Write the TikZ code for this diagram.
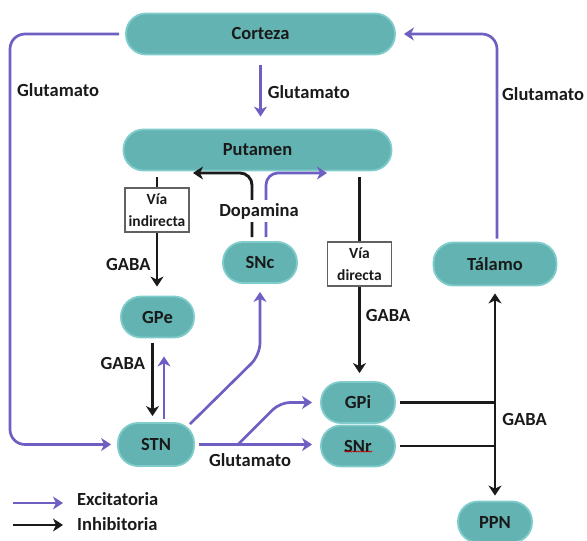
\documentclass[tikz,border=0pt]{standalone}
\usepackage{fontspec}
\setmainfont{Carlito}
\usetikzlibrary{arrows.meta,positioning,calc,decorations.pathmorphing}

\definecolor{tealfill}{RGB}{98,179,178}
\definecolor{tealedge}{RGB}{128,204,203}
\definecolor{excit}{RGB}{110,96,194}
\definecolor{inhib}{RGB}{26,26,26}

\begin{document}
\begin{tikzpicture}[x=10pt,y=-10pt,
  area/.style={draw=tealedge, line width=1.8pt, fill=tealfill, rounded corners=20pt,
    minimum height=41pt, inner sep=0pt, text=inhib, font=\bfseries\fontsize{18.5}{21}\selectfont},
  via/.style={draw=black!62, line width=1.8pt, fill=white, align=center, inner sep=0pt,
    minimum width=64pt, minimum height=44pt, text=inhib, font=\bfseries\fontsize{15.5}{22}\selectfont},
  lbl/.style={inner sep=0pt, text=inhib, font=\bfseries\fontsize{18.5}{21}\selectfont},
  inhline/.style={draw=inhib, line width=2.9pt},
  exc/.style={draw=excit, line width=2.7pt, -{Stealth[length=10pt,width=13pt,inset=3pt]}},
  inh/.style={inhline, -{Stealth[length=10pt,width=13pt,inset=3pt]}},
  spell/.style={draw=red!75!black, line width=0.6pt, decorate,
    decoration={snake, amplitude=0.6pt, segment length=2.6pt}}]
  \useasboundingbox (0,0) rectangle (58.7,54.1);

  % Areas
  \node[area, minimum width=269pt] (corteza) at (26.05,3.4) {Corteza};
  \node[area, minimum width=268pt] (putamen) at (25.75,15.0) {Putamen};
  \node[area, minimum width=74pt] (snc) at (26,26.25) {SNc};
  \node[area, minimum width=73pt] (gpe) at (15.75,31.7) {GPe};
  \node[area, minimum width=123pt, minimum height=43pt] (talamo) at (49.5,26.4) {Tálamo};
  \node[area, minimum width=76pt, minimum height=43pt] (stn) at (15.6,44.45) {STN};
  \node[area, minimum width=74pt] (gpi) at (35.8,40.25) {GPi};
  \node[area, minimum width=74pt] (snr) at (35.8,44.6) {SNr};
  \node[area, minimum width=74pt] (ppn) at (49.5,52.2) {PPN};
  \draw[spell] ([shift={(-14pt,-5.5pt)}]snr.center) -- ++(28pt,0);

  % Pathway boxes
  \node[via] (indir) at (15.7,21) {Vía\\indirecta};
  \node[via] (dir) at (35.95,26.4) {Vía\\directa};

  % Corteza -> Putamen
  \draw[exc, shorten <=10pt, shorten >=12pt] (corteza.south) -- (corteza.south |- putamen.north)
    node[lbl, midway, right=6pt] (glu1) {Glutamato};

  % Corteza -> STN
  \coordinate (loopL) at (1,44.45);
  \draw[exc, rounded corners=15pt, shorten <=6pt, shorten >=6pt] (corteza.west) -| (loopL) -- (stn.west);
  \node[lbl, anchor=west] (glu2) at (1.7,9) {Glutamato};

  % Talamo -> Corteza
  \coordinate (loopR) at (49.7,3.4);
  \draw[exc, rounded corners=15pt, shorten <=3pt, shorten >=8pt] (talamo.north -| loopR) -- (loopR) -- (corteza.east);
  \node[lbl, anchor=west] (glu3) at (50.2,9.4) {Glutamato};

  % Indirect pathway
  \draw[inhline, shorten <=6pt] (putamen.south -| indir.north) -- (indir.north);
  \draw[inh, shorten >=9pt] (indir.south) -- (indir.south |- gpe.north)
    node[lbl, midway, left=5pt] (gaba1) {GABA};

  % Direct pathway
  \draw[inhline, shorten <=6pt] (putamen.south -| dir.north) -- (dir.north);
  \draw[inh, shorten >=8pt] (dir.south) -- (dir.south |- gpi.north)
    node[lbl, pos=0.3, right=5pt] (gaba2) {GABA};

  % Dopamine
  \coordinate (dopL) at (19.3,17.3);
  \coordinate (dopR) at (32.7,17.3);
  \draw[inh, rounded corners=12pt, shorten <=4pt] ([xshift=-8pt]snc.north) |- (dopL);
  \draw[exc, rounded corners=12pt, shorten <=4pt] ([xshift=6pt]snc.north) |- (dopR);
  \node[lbl, fill=white, inner sep=3pt] (dopa) at (25.9,21.1) {Dopamina};

  % GPe <-> STN
  \draw[inh, shorten <=5pt, shorten >=6pt] ([xshift=-5pt]gpe.south) -- ([xshift=-5pt]gpe.south |- stn.north)
    node[lbl, pos=0.3, left=6pt] (gaba3) {GABA};
  \draw[exc, shorten <=3pt, shorten >=18pt] ([xshift=6.5pt]gpe.south |- stn.north) -- ([xshift=6.5pt]gpe.south);

  % STN -> SNc
  \coordinate (bend) at (26,35.5);
  \draw[exc, rounded corners=12pt, shorten >=8pt] ([shift={(-5pt,-2pt)}]stn.north east) -- (bend) -- (snc.south);

  % STN -> GPi, SNr
  \coordinate (split) at (23.8,44.45);
  \coordinate (kink) at (28,40.25);
  \draw[exc, shorten <=4pt, shorten >=8pt] (stn.east) -- (stn.east -| snr.west);
  \draw[exc, rounded corners=10pt, shorten >=8pt] (split) -- (kink) -- (gpi.west);
  \node[lbl] (glu4) at (25,46) {Glutamato};

  % GPi, SNr -> Talamo, PPN
  \draw[inhline, shorten <=4pt] (gpi.east) -- (gpi.east -| talamo.south);
  \draw[inhline, shorten <=4pt] (snr.east) -- (snr.east -| ppn.north);
  \draw[inhline, {Stealth[length=10pt,width=13pt,inset=3pt]}-{Stealth[length=10pt,width=13pt,inset=3pt]},
    shorten <=7pt, shorten >=5pt] (talamo.south) -- (ppn.north)
    node[lbl, pos=0.62, right=6pt] (gaba4) {GABA};

  % Legend
  \node[lbl, anchor=west] (excL) at (7.7,49.9) {Excitatoria};
  \node[lbl, anchor=west] (inhL) at (7.7,52.45) {Inhibitoria};
  \coordinate (excA) at (1.3,50.3);
  \coordinate (inhA) at (1.3,52.5);
  \draw[exc] (excA) -- ++(50pt,0);
  \draw[inh] (inhA) -- ++(50pt,0);
\end{tikzpicture}
\end{document}
